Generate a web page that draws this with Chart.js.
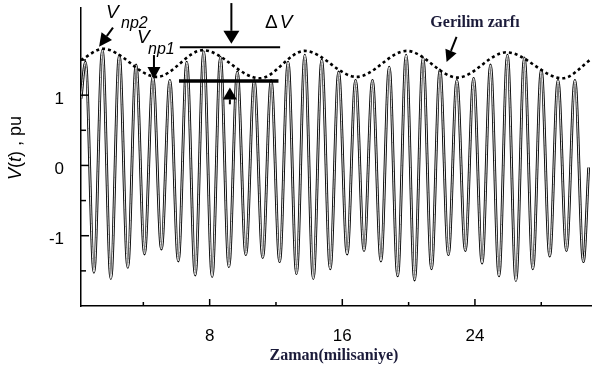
<!DOCTYPE html>
<html>
<head>
<meta charset="utf-8">
<script src="https://cdn.jsdelivr.net/npm/chart.js@4.4.1/dist/chart.umd.min.js"></script>
<style>
  html, body { margin: 0; padding: 0; background: #fff; }
  #wrap { width: 592px; height: 376px; }
</style>
</head>
<body>
<div id="wrap"><canvas id="c" width="592" height="376"></canvas></div>
<script>
// Gerilim dalgası: pozitif tepeler (ms, pu)
const peakTimes = [0.51, 1.53, 2.55, 3.56, 4.58, 5.60, 6.62, 7.64, 8.65, 9.67, 10.69, 11.71, 12.73, 13.74, 14.76,
                   15.78, 16.80, 17.82, 18.83, 19.85, 20.87, 21.89, 22.91, 23.92, 24.94, 25.96, 26.98, 28.00, 29.01, 30.03]
const peakValues = [1.47, 1.64, 1.57, 1.43, 1.26, 1.21, 1.47, 1.62, 1.54, 1.33, 1.21, 1.21, 1.47, 1.57, 1.50,
                    1.33, 1.21, 1.21, 1.40, 1.57, 1.53, 1.36, 1.21, 1.24, 1.43, 1.57, 1.53, 1.36, 1.21, 1.21]
// negatif tepeler
const troughTimes = [1.02, 2.04, 3.06, 4.07, 5.09, 6.11, 7.13, 8.15, 9.16, 10.18, 11.20, 12.22, 13.24, 14.25, 15.27,
                     16.29, 17.31, 18.33, 19.34, 20.36, 21.38, 22.40, 23.42, 24.43, 25.45, 26.47, 27.49, 28.51, 29.52, 30.54]
const troughValues = [-1.52, -1.61, -1.45, -1.26, -1.19, -1.36, -1.56, -1.58, -1.44, -1.27, -1.31, -1.37, -1.54, -1.61, -1.47,
                      -1.26, -1.21, -1.36, -1.57, -1.63, -1.47, -1.27, -1.21, -1.39, -1.57, -1.64, -1.47, -1.29, -1.21, -1.37]
const waveStart = { t: 0.24, v: 0.95 }
const waveEnd = { t: 30.86, v: -0.03 }

// Gerilim zarfı (noktalı)
const envTimes = [0.24, 1.57, 4.82, 7.59, 11.02, 13.73, 16.87, 19.88, 22.95, 25.90, 29.28, 31.0]
const envValues = [1.50, 1.66, 1.26, 1.64, 1.24, 1.63, 1.26, 1.63, 1.25, 1.61, 1.24, 1.51]

// Eksenler
const xTicks = [4, 8, 12, 16, 20, 24, 28]
const xTickLabels = { 8: '8', 16: '16', 24: '24' }
const yTicks = [-1.5, -1, -0.5, 0, 0.5, 1, 1.5]
const yTickLabels = { '-1': '-1', '0': '0', '1': '1' }

const SANS = "'Liberation Sans', Arial, sans-serif"
const SERIF = "'Liberation Serif', 'Times New Roman', serif"
const NAVY = '#1b1b3a'

// dalga noktalarını tepe dizilerinden sırayla kur
const wavePts = [{ x: waveStart.t, y: waveStart.v }]
peakTimes.forEach((t, i) => {
  wavePts.push({ x: t, y: peakValues[i] })
  wavePts.push({ x: troughTimes[i], y: troughValues[i] })
})
wavePts.push({ x: waveEnd.t, y: waveEnd.v })

const envPts = envTimes.map((t, i) => ({ x: t, y: envValues[i] }))

function arrow(ctx, x0, y0, x1, y1, len, half) {
  const a = Math.atan2(y1 - y0, x1 - x0)
  const bx = x1 - len * Math.cos(a), by = y1 - len * Math.sin(a)
  ctx.beginPath()
  ctx.moveTo(x0, y0)
  ctx.lineTo(bx, by)
  ctx.stroke()
  ctx.beginPath()
  ctx.moveTo(x1, y1)
  ctx.lineTo(bx + half * Math.sin(a), by - half * Math.cos(a))
  ctx.lineTo(bx - half * Math.sin(a), by + half * Math.cos(a))
  ctx.closePath()
  ctx.fill()
}

const decor = {
  id: 'decor',
  afterDraw(chart) {
    const { ctx, scales: { x, y } } = chart
    const X = t => x.getPixelForValue(t)
    const Y = v => y.getPixelForValue(v)
    ctx.save()
    ctx.strokeStyle = '#000'
    ctx.fillStyle = '#000'

    // içe dönük tik çizgileri
    ctx.lineWidth = 1.5
    xTicks.forEach(v => {
      const len = xTickLabels[v] ? 7 : 4
      ctx.beginPath()
      ctx.moveTo(X(v), y.bottom)
      ctx.lineTo(X(v), y.bottom - len)
      ctx.stroke()
    })
    yTicks.forEach(v => {
      const len = yTickLabels[String(v)] ? 8 : 5
      ctx.beginPath()
      ctx.moveTo(x.left, Y(v))
      ctx.lineTo(x.left + len, Y(v))
      ctx.stroke()
    })

    // ΔV çizgileri
    ctx.lineWidth = 2
    ctx.beginPath()
    ctx.moveTo(X(6.2), Y(1.68))
    ctx.lineTo(X(12.25), Y(1.68))
    ctx.stroke()
    ctx.lineWidth = 3.5
    ctx.beginPath()
    ctx.moveTo(X(6.15), Y(1.20))
    ctx.lineTo(X(12.15), Y(1.20))
    ctx.stroke()

    // oklar
    ctx.lineWidth = 2
    arrow(ctx, X(9.31), Y(2.31), X(9.31), Y(1.73), 13, 8)
    arrow(ctx, X(9.22), Y(0.87), X(9.22), Y(1.11), 12, 7)
    arrow(ctx, X(2.17), Y(1.96), X(1.33), Y(1.69), 13, 6.5)
    arrow(ctx, X(4.64), Y(1.57), X(4.64), Y(1.23), 12, 6.5)
    arrow(ctx, X(22.89), Y(1.83), X(22.29), Y(1.47), 12, 6)

    // etiketler
    ctx.textBaseline = 'alphabetic'
    ctx.textAlign = 'left'
    ctx.font = `italic 19px ${SANS}`
    ctx.fillText('V', 106, 18)
    ctx.font = `italic 16px ${SANS}`
    ctx.fillText('np2', 121, 28)
    ctx.font = `italic 19px ${SANS}`
    ctx.fillText('V', 137, 43)
    ctx.font = `italic 16px ${SANS}`
    ctx.fillText('np1', 148, 54)

    ctx.font = `19px ${SANS}`
    ctx.fillText('\u0394', 265, 28)
    const dw = ctx.measureText('\u0394').width
    ctx.font = `italic 19px ${SANS}`
    ctx.fillText('V', 265 + dw + 2, 28)

    ctx.fillStyle = NAVY
    ctx.textAlign = 'center'
    ctx.font = `bold 16px ${SERIF}`
    ctx.fillText('Gerilim zarf\u0131', 475, 27)
    ctx.fillText('Zaman(milisaniye)', 334, 360)

    // y ekseni başlığı: V(t) , pu
    ctx.fillStyle = '#000'
    ctx.translate(21, 148)
    ctx.rotate(-Math.PI / 2)
    const parts = [['V', 'italic '], ['(', ''], ['t', 'italic '], [')', ''], [' , pu', '']]
    let total = 0
    parts.forEach(p => { ctx.font = `${p[1]}18px ${SANS}`; total += ctx.measureText(p[0]).width })
    let cx = -total / 2
    ctx.textAlign = 'left'
    parts.forEach(p => {
      ctx.font = `${p[1]}18px ${SANS}`
      ctx.fillText(p[0], cx, 0)
      cx += ctx.measureText(p[0]).width
    })
    ctx.restore()
  }
}

new Chart(document.getElementById('c'), {
  type: 'line',
  data: {
    datasets: [
      { data: envPts, borderColor: '#000', borderWidth: 2.6, borderDash: [3, 3], pointRadius: 0,
        cubicInterpolationMode: 'monotone', order: 0 },
      { data: wavePts, borderColor: '#fff', borderWidth: 0.9, pointRadius: 0,
        cubicInterpolationMode: 'monotone', order: 1 },
      { data: wavePts, borderColor: '#000', borderWidth: 2.8, pointRadius: 0,
        cubicInterpolationMode: 'monotone', order: 2 }
    ]
  },
  options: {
    responsive: false,
    animation: false,
    layout: { padding: { top: 8, right: 1, left: 0, bottom: 0 } },
    plugins: { legend: { display: false }, tooltip: { enabled: false } },
    scales: {
      x: {
        type: 'linear',
        min: 0.24,
        max: 31.0,
        grid: { display: false, drawTicks: false },
        border: { display: true, color: '#000', width: 1.5 },
        afterBuildTicks: s => { s.ticks = [8, 16, 24].map(v => ({ value: v })) },
        afterFit: s => { s.height = 70; s.paddingLeft = 0; s.paddingRight = 0 },
        ticks: {
          autoSkip: false,
          maxRotation: 0,
          padding: 20,
          color: '#000',
          font: { family: SANS, size: 17 },
          callback: v => xTickLabels[v] || ''
        }
      },
      y: {
        min: -2,
        max: 2.24,
        grid: { display: false, drawTicks: false },
        border: { display: true, color: '#000', width: 1.5 },
        afterBuildTicks: s => { s.ticks = [-1, 0, 1].map(v => ({ value: v })) },
        afterFit: s => { s.width = 81; s.paddingTop = 0; s.paddingBottom = 0 },
        ticks: {
          autoSkip: false,
          padding: 17,
          labelOffset: 4,
          color: '#000',
          font: { family: SANS, size: 17 },
          callback: v => yTickLabels[String(v)] || ''
        }
      }
    }
  },
  plugins: [decor]
})
</script>
</body>
</html>
